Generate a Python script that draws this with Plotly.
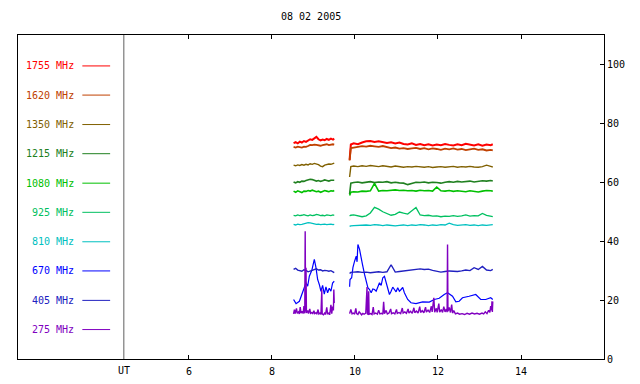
import plotly.graph_objects as go

title_text = "08 02 2005"
freq_labels = ["1755 MHz", "1620 MHz", "1350 MHz", "1215 MHz", "1080 MHz",
               "925 MHz", "810 MHz", "670 MHz", "405 MHz", "275 MHz"]
freq_colors = ["#ff0000", "#c04000", "#806000", "#208020", "#00c000",
               "#00c060", "#00c0c0", "#0000ff", "#2020c0", "#8000c0"]
label_levels = [99.5, 89.6, 79.6, 69.7, 59.7, 49.8, 39.8, 29.9, 19.9, 10.0]
x_ticks = [6, 8, 10, 12, 14]
y_ticks = [0, 20, 40, 60, 80, 100]
UT_X = 4.43

# time grids (UT hours)
tA = [8.52, 8.57, 8.62, 8.67, 8.72, 8.77, 8.82, 8.87, 8.92, 8.97, 9.02, 9.07,
      9.12, 9.17, 9.22, 9.27, 9.32, 9.37, 9.42, 9.47, 9.50]
tB = [9.87, 9.90, 9.97, 10.07, 10.17, 10.27, 10.37, 10.47, 10.57, 10.67, 10.77,
      10.87, 10.97, 11.07, 11.17, 11.27, 11.37, 11.47, 11.57, 11.67, 11.77, 11.87,
      11.97, 12.07, 12.17, 12.27, 12.37, 12.47, 12.57, 12.67, 12.77, 12.87, 12.97,
      13.07, 13.17, 13.27, 13.32]

v1755_a = [73.3, 73.6, 73.2, 73.8, 73.5, 74.0, 73.7, 74.3, 74.6, 74.4, 75.0, 75.4,
           74.6, 74.2, 74.5, 74.3, 74.7, 74.4, 74.8, 74.5, 74.8]
v1755_b = [67.6, 72.8, 73.2, 72.9, 73.5, 73.9, 74.0, 73.7, 73.9, 73.6, 73.3, 73.6,
           73.2, 73.5, 73.0, 72.8, 73.2, 72.7, 73.0, 72.6, 72.9, 72.5, 72.8, 72.6,
           73.0, 72.7, 72.5, 72.9, 72.6, 73.1, 72.8, 72.5, 72.9, 72.4, 72.8, 72.6, 72.9]
v1620_a = [72.0, 71.8, 72.1, 71.9, 71.8, 72.1, 72.0, 72.3, 72.7, 72.6, 72.8, 72.7,
           72.5, 72.4, 72.6, 72.7, 72.9, 72.6, 72.8, 72.9, 72.8]
v1620_b = [67.4, 71.6, 71.8, 72.0, 72.3, 72.1, 72.4, 72.2, 72.0, 72.3, 71.9, 71.6,
           71.8, 71.4, 71.6, 71.3, 71.5, 71.7, 71.3, 71.6, 71.2, 71.5, 71.3, 71.0,
           71.4, 71.2, 71.5, 71.1, 71.3, 70.9, 71.2, 71.4, 71.0, 71.2, 70.8, 71.0, 70.8]
v1350_a = [65.8, 65.6, 65.9, 65.7, 66.0, 65.8, 66.1, 65.9, 66.3, 66.1, 66.4, 66.2,
           66.0, 65.5, 65.3, 65.8, 66.0, 66.2, 66.1, 66.4, 66.5]
v1350_b = [61.8, 65.3, 65.5, 65.3, 65.6, 65.4, 65.7, 65.5, 65.3, 65.6, 65.4, 65.2,
           65.5, 65.3, 65.1, 65.3, 65.2, 65.4, 65.2, 65.1, 65.3, 65.0, 65.2, 65.3,
           65.1, 65.2, 65.4, 65.1, 65.3, 65.2, 65.4, 65.2, 65.1, 65.3, 65.8, 65.4, 65.2]
v1215_a = [60.1, 59.8, 60.2, 60.0, 60.4, 60.3, 60.6, 60.8, 61.0, 60.9, 60.7, 60.4,
           60.6, 60.3, 60.5, 60.8, 60.6, 60.4, 60.7, 60.6, 60.7]
v1215_b = [56.0, 59.7, 59.9, 60.1, 59.8, 60.0, 60.2, 59.9, 60.1, 60.0, 60.2, 59.8,
           60.0, 59.8, 59.7, 59.2, 59.6, 60.0, 59.9, 60.1, 59.8, 60.0, 59.9, 59.7,
           60.0, 60.2, 60.0, 60.3, 60.1, 60.2, 60.4, 60.1, 60.3, 60.5, 60.4, 60.6, 60.4]
v1080_a = [57.0, 56.6, 57.1, 56.8, 56.5, 57.0, 56.9, 57.2, 57.0, 57.3, 57.1, 56.8,
           57.0, 56.6, 56.9, 57.2, 57.0, 56.8, 57.1, 57.0, 57.2]
v1080_b = [55.5, 56.6, 56.8, 56.7, 57.0, 56.9, 57.1, 59.6, 57.0, 57.2, 57.1, 57.3,
           57.4, 57.2, 57.3, 57.1, 57.2, 57.0, 57.3, 57.1, 57.2, 57.0, 58.4, 57.1,
           57.0, 57.2, 56.9, 57.1, 57.0, 56.8, 57.1, 57.0, 56.7, 57.0, 57.2, 57.1, 57.0]
v925_a = [48.8, 48.6, 48.9, 48.7, 48.8, 49.0, 48.8, 48.6, 48.9, 48.7, 48.8, 49.1,
          48.9, 48.7, 48.8, 48.6, 48.9, 48.8, 48.7, 48.9, 48.8]
v925_b = [48.6, 48.8, 48.9, 48.6, 48.3, 48.6, 49.6, 51.5, 50.9, 50.0, 49.3, 48.8,
          49.1, 49.9, 49.5, 49.2, 50.3, 51.4, 48.9, 48.7, 48.8, 48.5, 48.6, 48.3,
          48.5, 48.4, 48.7, 48.4, 48.6, 48.9, 48.5, 48.7, 48.6, 49.4, 48.8, 48.4, 48.3]
v810_a = [45.7, 45.5, 45.8, 45.6, 45.7, 45.9, 46.1, 46.3, 46.2, 46.0, 45.9, 45.7,
          45.8, 45.6, 45.7, 45.8, 45.6, 45.7, 45.8, 45.6, 45.7]
v810_b = [45.0, 45.2, 45.3, 45.4, 45.3, 45.5, 45.4, 45.6, 45.5, 45.3, 45.5, 45.4,
          45.2, 45.4, 45.5, 45.3, 45.5, 45.4, 45.6, 45.5, 45.3, 45.5, 45.4, 45.6,
          45.5, 46.1, 45.6, 45.4, 45.5, 45.6, 45.4, 45.5, 45.3, 45.5, 45.4, 45.5, 45.6]
v405_a = [30.4, 30.8, 30.2, 30.0, 29.8, 30.3, 30.1, 29.6, 29.9, 30.0, 30.4, 30.6,
          30.2, 30.3, 29.9, 30.1, 30.0, 29.8, 30.0, 29.7, 29.3]
v405_b = [29.0, 29.4, 29.5, 29.6, 29.4, 29.5, 29.3, 29.5, 29.6, 29.4, 29.6, 32.0,
          29.5, 29.7, 29.9, 30.2, 30.4, 30.5, 30.6, 30.4, 30.5, 30.1, 29.8, 29.5,
          29.7, 29.9, 29.8, 29.7, 29.9, 30.2, 30.0, 31.0, 30.4, 31.4, 30.2, 30.0, 30.4]

t670 = [8.52, 8.58, 8.66, 8.74, 8.82, 8.86, 8.90, 8.96, 9.02, 9.06, 9.10, 9.14,
        9.18, 9.22, 9.26, 9.30, 9.34, 9.38, 9.42, 9.46, 9.50, None,
        9.87, 9.88, 9.92, 9.95, 9.99, 10.03, 10.05, 10.07, 10.11, 10.15, 10.18,
        10.23, 10.27, 10.31, 10.35, 10.39, 10.43, 10.47, 10.51, 10.55, 10.59,
        10.63, 10.67, 10.71, 10.75, 10.79, 10.83, 10.87, 10.91, 10.95, 10.99,
        11.03, 11.07, 11.11, 11.15, 11.19, 11.27, 11.35, 11.47, 11.63, 11.79,
        11.91, 12.03, 12.15, 12.23, 12.35, 12.43, 12.51, 12.59, 12.75, 12.83,
        12.91, 13.03, 13.15, 13.27, 13.32]
v670 = [20.2, 18.8, 19.6, 22.5, 25.9, 24.7, 28.1, 30.1, 33.8, 31.0, 27.0, 25.3,
        23.0, 25.0, 22.0, 24.5, 22.5, 24.0, 23.0, 25.8, 26.4, None,
        24.5, 27.0, 27.6, 31.0, 33.2, 34.9, 33.0, 38.9, 37.2, 33.8, 32.1,
        28.7, 25.9, 24.2, 23.6, 22.5, 23.8, 23.6, 23.0, 24.7, 25.9,
        25.0, 27.6, 28.1, 25.9, 23.6, 21.9, 23.0, 24.4, 23.6, 22.8,
        24.2, 23.0, 23.6, 24.3, 22.5, 20.2, 19.1, 18.8, 19.4, 19.3,
        20.2, 20.6, 21.9, 22.5, 21.3, 19.4, 19.6, 20.8, 21.3, 21.6,
        21.9, 20.2, 20.2, 20.8, 20.2]

t275 = [8.52, 8.54, 8.56, 8.59, 8.61, 8.64, 8.66, 8.68, 8.70, 8.73, 8.75, 8.77,
        8.79, 8.80, 8.81, 8.82, 8.83, 8.86, 8.88, 8.91, 8.93, 8.96, 8.98, 9.01,
        9.03, 9.06, 9.08, 9.11, 9.13, 9.16, 9.18, 9.20, 9.21, 9.24, 9.27, 9.29,
        9.32, 9.34, 9.37, 9.39, 9.42, 9.44, 9.46, 9.48, 9.49, 9.50, None,
        9.87, 9.90, 9.93, 9.96, 9.99, 10.02, 10.04, 10.07, 10.10, 10.13, 10.16,
        10.19, 10.22, 10.26, 10.29, 10.30, 10.32, 10.33, 10.34, 10.38, 10.41,
        10.44, 10.46, 10.50, 10.54, 10.57, 10.60, 10.64, 10.67, 10.69, 10.71,
        10.75, 10.78, 10.82, 10.86, 10.88, 10.92, 10.96, 11.00, 11.02, 11.06,
        11.10, 11.14, 11.16, 11.20, 11.24, 11.28, 11.30, 11.34, 11.38, 11.42,
        11.44, 11.48, 11.52, 11.56, 11.58, 11.62, 11.66, 11.70, 11.72, 11.76,
        11.80, 11.84, 11.86, 11.90, 11.92, 11.96, 11.98, 12.02, 12.04, 12.08,
        12.11, 12.14, 12.17, 12.20, 12.22, 12.23, 12.24, 12.27, 12.30, 12.33,
        12.35, 12.38, 12.42, 12.47, 12.52, 12.58, 12.64, 12.70, 12.76, 12.82,
        12.88, 12.94, 13.00, 13.06, 13.10, 13.14, 13.18, 13.22, 13.25, 13.27,
        13.29, 13.30, 13.31, 13.32]
v275 = [15.3, 16.8, 15.4, 17.2, 15.5, 16.0, 15.3, 17.6, 15.6, 16.2, 15.4, 18.0,
        15.5, 43.4, 16.0, 31.0, 15.6, 16.5, 15.4, 17.0, 15.5, 15.8, 15.3, 16.4,
        15.4, 15.7, 15.2, 16.8, 15.3, 15.6, 15.1, 23.6, 15.3, 15.0, 15.6, 15.1,
        17.5, 15.2, 15.6, 15.0, 18.4, 15.4, 17.8, 16.5, 23.6, 19.0, None,
        15.4, 16.8, 15.3, 15.6, 15.2, 17.2, 15.4, 15.1, 16.0, 15.3, 15.0,
        15.5, 15.2, 15.6, 24.4, 15.3, 15.1, 23.0, 15.2, 15.4, 15.1,
        17.6, 15.3, 15.6, 15.2, 16.6, 15.3, 15.5, 15.2, 19.4, 15.4,
        16.5, 15.3, 15.6, 17.0, 15.4, 15.7, 15.3, 16.8, 15.5, 15.8,
        15.4, 17.3, 15.6, 16.0, 15.5, 17.0, 15.6, 16.2, 15.5, 17.4,
        15.7, 16.3, 15.6, 17.8, 15.8, 16.4, 15.7, 17.6, 15.9, 16.6,
        15.8, 17.9, 16.0, 20.8, 15.9, 17.2, 15.8, 18.8, 15.9, 16.8,
        15.8, 17.8, 16.0, 17.0, 15.9, 38.9, 16.2, 17.5, 15.8, 18.5,
        15.6, 16.4, 15.3, 15.6, 15.2, 15.4, 15.1, 15.5, 15.2, 15.6,
        15.3, 15.5, 15.2, 15.6, 15.3, 16.0, 15.4, 16.5, 15.8, 18.0,
        16.5, 19.6, 16.0, 19.5]

tAB = tA + [None] + tB
series = [
    (tAB, v1755_a + [None] + v1755_b),
    (tAB, v1620_a + [None] + v1620_b),
    (tAB, v1350_a + [None] + v1350_b),
    (tAB, v1215_a + [None] + v1215_b),
    (tAB, v1080_a + [None] + v1080_b),
    (tAB, v925_a + [None] + v925_b),
    (tAB, v810_a + [None] + v810_b),
    (t670, v670),
    (tAB, v405_a + [None] + v405_b),
    (t275, v275),
]
line_widths = [2.0, 1.8, 1.4, 1.6, 1.6, 1.3, 1.3, 1.2, 1.4, 1.4]

FONT = "DejaVu Sans Mono"
fig = go.Figure()
for (tx, vy), col, lw in zip(series, freq_colors, line_widths):
    fig.add_trace(go.Scatter(x=tx, y=vy, mode="lines",
                             line=dict(color=col, width=lw),
                             connectgaps=False, showlegend=False,
                             hoverinfo="skip"))

annotations = []
shapes = []
for lab, col, lev in zip(freq_labels, freq_colors, label_levels):
    annotations.append(dict(x=3.27, y=lev, xref="x", yref="y", text=lab,
                            showarrow=False, xanchor="right", yanchor="middle",
                            font=dict(family=FONT, size=10, color=col)))
    shapes.append(dict(type="line", xref="x", yref="y", x0=3.43, x1=4.10,
                       y0=lev, y1=lev, line=dict(color=col, width=1)))

shapes.append(dict(type="line", xref="x", yref="paper", x0=UT_X, x1=UT_X,
                   y0=0, y1=1, line=dict(color="#606060", width=1)))
annotations.append(dict(x=UT_X, y=-0.034, xref="x", yref="paper", text="UT",
                        showarrow=False, xanchor="center", yanchor="middle",
                        font=dict(family=FONT, size=10, color="black")))
annotations.append(dict(x=0.5, y=1.056, xref="paper", yref="paper", text=title_text,
                        showarrow=False, xanchor="center", yanchor="middle",
                        font=dict(family=FONT, size=10, color="black")))

# page body has an 8px margin, so the figure is sized/offset to compensate
fig.update_layout(
    width=632, height=376,
    margin=dict(l=10, r=36, t=27, b=25),
    paper_bgcolor="white", plot_bgcolor="white",
    font=dict(family=FONT, size=10, color="black"),
    annotations=annotations, shapes=shapes,
    xaxis=dict(range=[1.88, 16.0], tickvals=x_ticks, ticks="inside", ticklen=4,
               tickcolor="black", showline=True, linecolor="black", linewidth=1,
               mirror="ticks", showgrid=False, zeroline=False, automargin=False,
               ticklabelstandoff=3,
               tickfont=dict(family=FONT, size=10, color="black")),
    yaxis=dict(range=[0, 110], tickvals=y_ticks, side="right", ticks="inside",
               ticklen=4, tickcolor="black", showline=True, linecolor="black",
               linewidth=1, mirror=True, showgrid=False, zeroline=False,
               automargin=False,
               tickfont=dict(family=FONT, size=10, color="black")),
)

fig.write_html("out.html")
